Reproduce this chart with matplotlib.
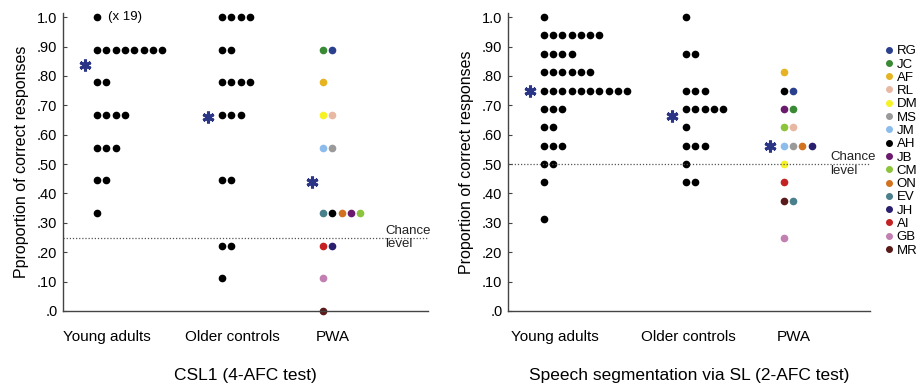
import numpy as np
import matplotlib
matplotlib.use('Agg')
import matplotlib.pyplot as plt
from matplotlib.lines import Line2D

plt.rcParams['font.family'] = ['Liberation Sans', 'DejaVu Sans']

# CSL1 (4-AFC), scores out of 9 items
csl_levels = [9, 8, 7, 6, 5, 4, 3, 2, 1]
csl_young = [1, 8, 2, 4, 3, 2, 1, 0, 0]
csl_older = [4, 2, 4, 3, 0, 2, 0, 2, 1]
csl_pwa_names = ['JC', 'RG', 'AF', 'DM', 'RL', 'JM', 'MS', 'EV', 'AH', 'ON', 'JB', 'CM', 'AI', 'JH', 'GB', 'MR']
csl_pwa_scores = [8, 8, 7, 6, 6, 5, 5, 3, 3, 3, 3, 3, 2, 2, 1, 0]
csl_means = [0.837, 0.66, 0.44]

# Speech segmentation (2-AFC), scores out of 16 items
sl_levels = [16, 15, 14, 13, 12, 11, 10, 9, 8, 7, 6, 5]
sl_young = [1, 7, 4, 6, 10, 3, 2, 3, 2, 1, 0, 1]
sl_older = [1, 0, 2, 0, 3, 5, 1, 3, 1, 2, 0, 0]
sl_pwa_names = ['AF', 'AH', 'RG', 'JB', 'JC', 'CM', 'RL', 'JM', 'MS', 'ON', 'JH', 'DM', 'AI', 'MR', 'EV', 'GB']
sl_pwa_scores = [13, 12, 12, 11, 11, 10, 10, 9, 9, 9, 9, 8, 7, 6, 6, 4]
sl_means = [0.75, 0.665, 0.56]

groups = ['Young adults', 'Older controls', 'PWA']

pwa_order = ['RG', 'JC', 'AF', 'RL', 'DM', 'MS', 'JM', 'AH', 'JB', 'CM', 'ON', 'EV', 'JH', 'AI', 'GB', 'MR']
pwa_colors = ['#2b3f8f', '#3a8a35', '#e6b422', '#e8b9a2', '#f6f224', '#9a9a9a', '#8cbcec', '#000000',
              '#6b1a6e', '#8cc43a', '#d2721f', '#4a7f8c', '#2a1f6e', '#c42222', '#c27fb2', '#5a1a1a']
color_of = dict(zip(pwa_order, pwa_colors))

STAR = '#2b3585'
DX = 0.256  # dot spacing in axis units


def draw_panel(ax, n_items, levels, young, older, names, scores, means,
               starts, star_x, label_x, chance, chance_x, title, ylabel):
    for start, counts in zip(starts[:2], [young, older]):
        for lev, c in zip(levels, counts):
            xs = start + DX * np.arange(c)
            ax.plot(xs, np.full(c, lev / n_items), 'o', color='black', ms=4.5, clip_on=False)

    used = {}
    for nm, sc in zip(names, scores):
        k = used.get(sc, 0)
        used[sc] = k + 1
        ax.plot(starts[2] + DX * k, sc / n_items, 'o', color=color_of[nm], ms=4.5, clip_on=False)

    for sx, m in zip(star_x, means):
        ax.plot(sx, m, marker=(6, 2, 0), ms=8.5, mew=2.2, color=STAR)

    ax.axhline(chance, color='#555555', lw=0.9, ls=(0, (1, 1.5)))
    ax.text(chance_x, chance, 'Chance\nlevel', fontsize=9.5, va='center', ha='left',
            linespacing=1.15, color='#222222')

    ax.set_xlim(0, 10)
    ax.set_ylim(0, 1.014)
    ax.set_yticks(np.arange(0, 1.01, 0.1))
    ax.set_yticklabels(['.0', '.10', '.20', '.30', '.40', '.50', '.60', '.70', '.80', '.90', '1.0'])
    ax.tick_params(axis='y', direction='in', length=3, labelsize=10.5, pad=4, color='#444444')
    ax.set_xticks(label_x)
    ax.set_xticklabels(groups)
    ax.tick_params(axis='x', length=0, labelsize=11, pad=14)
    ax.set_ylabel(ylabel, fontsize=11.5, labelpad=6)
    for s in ['top', 'right']:
        ax.spines[s].set_visible(False)
    for s in ['left', 'bottom']:
        ax.spines[s].set_color('#444444')
        ax.spines[s].set_linewidth(1.0)
    ax.text(0.5, -0.215, title, transform=ax.transAxes, ha='center', va='center', fontsize=12.5)


fig = plt.figure(figsize=(9.22, 3.88), dpi=100)
ax1 = fig.add_axes([63 / 922, 77 / 388, 365 / 922, 298 / 388])
ax2 = fig.add_axes([508 / 922, 77 / 388, 362 / 922, 298 / 388])

draw_panel(ax1, 9, csl_levels, csl_young, csl_older, csl_pwa_names, csl_pwa_scores, csl_means,
           starts=[0.93, 4.36, 7.12], star_x=[0.6, 3.97, 6.82], label_x=[1.2, 4.63, 7.4],
           chance=0.25, chance_x=8.82, title='CSL1 (4-AFC test)',
           ylabel='Pproportion of correct responses')
ax1.text(0.93 + 0.3, 1.0, '(x 19)', fontsize=9.5, va='center', ha='left')

draw_panel(ax2, 16, sl_levels, sl_young, sl_older, sl_pwa_names, sl_pwa_scores, sl_means,
           starts=[0.99, 4.92, 7.62], star_x=[0.61, 4.53, 7.24], label_x=[1.3, 4.97, 7.9],
           chance=0.5, chance_x=8.9, title='Speech segmentation via SL (2-AFC test)',
           ylabel='Proportion of correct responses')

handles = [Line2D([], [], ls='none', marker='o', ms=4, color=c) for c in pwa_colors]
fig.legend(handles, pwa_order, loc='upper left', bbox_to_anchor=(886 / 922, 1 - 45 / 388),
           frameon=False, fontsize=9.5, handlelength=0.5, handletextpad=0.3,
           labelspacing=0.08, borderpad=0, borderaxespad=0)

fig.savefig('out.png', dpi=100)
